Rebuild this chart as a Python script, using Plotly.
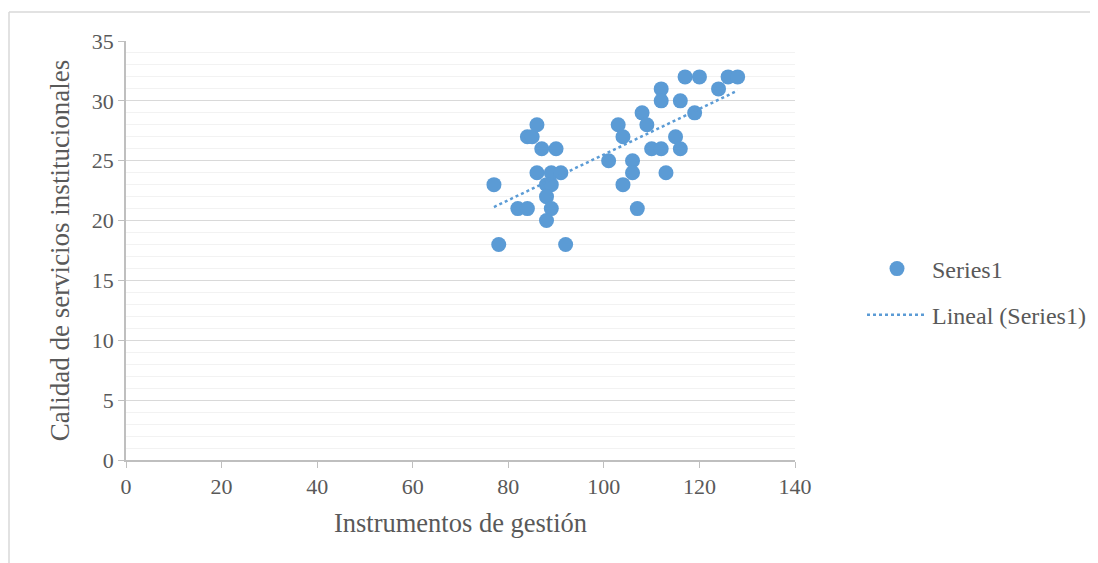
import numpy as np
import plotly.graph_objects as go

x_vals = [77, 78, 82, 84, 84, 85, 86, 87, 90, 86, 89, 91, 88, 89, 88, 89, 88, 92,
          101, 103, 104, 104, 106, 106, 107, 108, 109, 110, 112, 112, 112, 113,
          115, 116, 116, 117, 120, 119, 124, 126, 128]
y_vals = [23, 18, 21, 21, 27, 27, 28, 26, 26, 24, 24, 24, 23, 23, 22, 21, 20, 18,
          25, 28, 27, 23, 25, 24, 21, 29, 28, 26, 26, 31, 30, 24,
          27, 26, 30, 32, 32, 29, 31, 32, 32]

x_ticks = [0, 20, 40, 60, 80, 100, 120, 140]
y_ticks = [0, 5, 10, 15, 20, 25, 30, 35]

color = "#5B9BD5"
font = "Liberation Serif, Times New Roman, serif"
gray = "#595959"

slope, intercept = np.polyfit(x_vals, y_vals, 1)
tx = np.array([min(x_vals), max(x_vals)])
ty = slope * tx + intercept

fig = go.Figure()
fig.add_trace(go.Scatter(x=x_vals, y=y_vals, mode="markers", name="Series1",
                         marker=dict(color=color, size=15), legendgroup="a"))
fig.add_trace(go.Scatter(x=tx, y=ty, mode="lines", name="Lineal (Series1)",
                         line=dict(color=color, width=2.5, dash="dot"), legendgroup="b"))

# page keeps its default 8px body margin: compensate
W, H = 1098, 563
L, T, R, B = 118, 33, 311, 111

fig.update_layout(
    width=W, height=H,
    margin=dict(l=L, r=R, t=T, b=B),
    paper_bgcolor="white", plot_bgcolor="white",
    font=dict(family=font, size=22, color=gray),
    showlegend=True,
    legend=dict(x=(862 - 126) / 669, y=(460 - 292) / 419, xref="paper", yref="paper",
                xanchor="left", yanchor="middle", itemwidth=60,
                traceorder="grouped", tracegroupgap=12,
                font=dict(family=font, size=24, color=gray)),
    xaxis=dict(range=[0, 140], tickvals=x_ticks, showgrid=False, zeroline=False,
               showline=True, linecolor="#BFBFBF", linewidth=1.5,
               ticks="outside", ticklen=6, tickcolor="#BFBFBF",
               tickfont=dict(size=22, color=gray),
               title=dict(text="Instrumentos de gestión", font=dict(size=26.5, color=gray), standoff=15)),
    yaxis=dict(range=[0, 35], tickvals=y_ticks, showgrid=True, gridcolor="#D9D9D9", gridwidth=1,
               zeroline=False, showline=True, linecolor="#BFBFBF", linewidth=1.5,
               ticks="outside", ticklen=6, tickcolor="#BFBFBF",
               tickfont=dict(size=22, color=gray),
               minor=dict(dtick=1, showgrid=True, gridcolor="#F2F2F2", gridwidth=1),
               title=dict(text="Calidad de servicios institucionales", font=dict(size=27, color=gray), standoff=14)),
)

bx0 = (9 - 126) / 669
by1 = (460 - 12) / 419
fig.add_shape(type="line", xref="paper", yref="paper",
              x0=bx0, x1=(1110 - 126) / 669, y0=by1, y1=by1,
              line=dict(color="#D9D9D9", width=1.5), layer="below")
fig.add_shape(type="line", xref="paper", yref="paper",
              x0=bx0, x1=bx0, y0=by1, y1=(460 - 580) / 419,
              line=dict(color="#D9D9D9", width=1.5), layer="below")

fig.write_html("out.html", config={"displayModeBar": False},
               post_script="document.documentElement.style.overflow='hidden';document.body.style.overflow='hidden';")
